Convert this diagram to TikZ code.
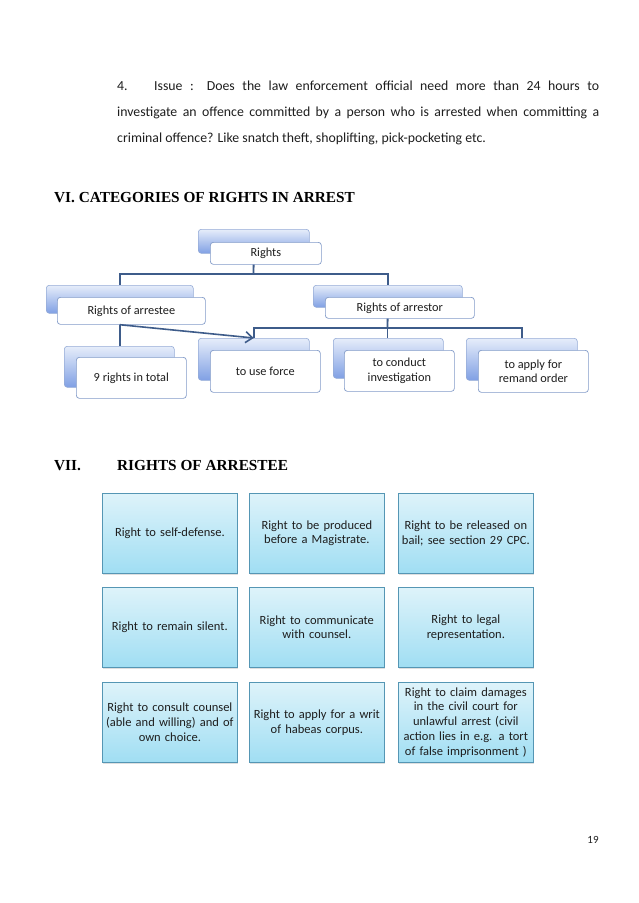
\documentclass[tikz,border=0pt]{standalone}
\usepackage{fontspec}
\setmainfont{Carlito}
\newfontfamily\tnr{Liberation Serif}
\usetikzlibrary{arrows.meta,shadows,backgrounds}
\definecolor{linec}{RGB}{62,92,138}
\definecolor{frontdraw}{RGB}{130,155,200}
\definecolor{backtop}{RGB}{230,237,250}
\definecolor{backbot}{RGB}{128,160,228}
\definecolor{backdraw}{RGB}{150,172,215}
\definecolor{gridtop}{RGB}{222,243,250}
\definecolor{gridbot}{RGB}{160,222,243}
\definecolor{griddraw}{RGB}{85,150,180}
\definecolor{txt}{RGB}{30,30,30}
\tikzset{
  backbox/.style={draw=backdraw, line width=0.6pt, rounded corners=3pt,
    top color=backtop, bottom color=backbot, inner sep=0pt, anchor=north west},
  frontbox/.style={draw=frontdraw, line width=0.7pt, rounded corners=3pt, fill=white,
    inner sep=1pt, anchor=north west, align=center, text=txt,
    font=\fontsize{12.3}{14.5}\selectfont},
  gridbox/.style={draw=griddraw, line width=0.7pt, top color=gridtop, bottom color=gridbot,
    minimum width=135pt, minimum height=80pt, text width=131pt, inner xsep=2pt,
    align=center, anchor=north west, text=txt,
    font=\fontsize{12.5}{14.7}\selectfont,
    drop shadow={shadow xshift=1pt, shadow yshift=-1.5pt, opacity=0.25}},
  conn/.style={draw=linec, line width=1.8pt},
  para/.style={anchor=base west, inner sep=0pt, text=txt, font=\fontsize{13.8}{15}\selectfont},
  heading/.style={anchor=base west, inner sep=0pt, text=black, font=\tnr\bfseries\fontsize{15.3}{17}\selectfont}
}
\begin{document}
\begin{tikzpicture}[x=1pt,y=-1pt]
\useasboundingbox (0,0) rectangle (638,903);
% paragraph
\node[para] (p1) at (117,90) {\makebox[482pt][s]{\makebox[37pt][l]{4.}Issue : Does the law enforcement official need more than 24 hours to}};
\node[para] (p2) at (117,116) {\makebox[482pt][s]{investigate an offence committed by a person who is arrested when committing a}};
\node[para] (p3) at (117,142) {criminal offence? Like snatch theft, shoplifting, pick-pocketing etc.};
% headings
\node[heading] (h6) at (54,202) {VI. CATEGORIES OF RIGHTS IN ARREST};
\node[heading] (h7a) at (54,470) {VII.};
\node[heading] (h7b) at (117,470) {RIGHTS OF ARRESTEE};
% hierarchy
\node[backbox, minimum width=111pt, minimum height=24pt] (rtb) at (198,229) {};
\node[frontbox, minimum width=111pt, minimum height=22pt] (rt) at (210,242) {Rights};
\node[backbox, minimum width=147pt, minimum height=28pt] (aeb) at (46,285) {};
\node[frontbox, minimum width=148pt, minimum height=27pt] (ae) at (57,297) {Rights of arrestee};
\node[backbox, minimum width=149pt, minimum height=22pt] (arb) at (313,285) {};
\node[frontbox, minimum width=149pt, minimum height=21pt] (ar) at (325,297) {Rights of arrestor};
\node[backbox, minimum width=110pt, minimum height=41pt] (nrb) at (64,346) {};
\node[frontbox, minimum width=110pt, minimum height=41pt] (nr) at (76,357) {9 rights in total};
\node[backbox, minimum width=111pt, minimum height=42pt] (ufb) at (198,338) {};
\node[frontbox, minimum width=110pt, minimum height=42pt] (uf) at (210,350) {to use force};
\node[backbox, minimum width=110pt, minimum height=40pt] (cib) at (333,338) {};
\node[frontbox, minimum width=110pt, minimum height=41pt] (ci) at (344,350) {to conduct\\investigation};
\node[backbox, minimum width=111pt, minimum height=42pt] (apb) at (466,338) {};
\node[frontbox, minimum width=110pt, minimum height=42pt] (ap) at (478,350) {to apply for\\remand order};
\coordinate (bus1) at (253.5,274);
\coordinate (bus2) at (387.5,328);
\begin{scope}[on background layer]
\fill[white] (0,0) rectangle (638,903);
\draw[conn] (rtb.south) -- (bus1);
\draw[conn] (aeb.north) |- (bus1) -| (arb.north);
\draw[conn] (aeb.south) -- (aeb.south |- nrb.north);
\draw[conn] (arb.south) -- (bus2);
\draw[conn] (ufb.north) |- (bus2) -| (apb.north);
\draw[conn] (bus2) -- (bus2 |- cib.north);
\end{scope}
\draw[conn, line width=1.6pt, -{Straight Barb[length=7pt,width=11pt,line width=1.6pt]}] (aeb.south |- ae.south) -- (ufb.north);
% grid of rights
\node[gridbox] (g11) at (102,493) {Right to self-defense.};
\node[gridbox] (g12) at (249,493) {Right to be produced\\before a Magistrate.};
\node[gridbox] (g13) at (398,493) {Right to be released on\\bail; see section 29 CPC.};
\node[gridbox] (g21) at (102,587) {Right to remain silent.};
\node[gridbox] (g22) at (249,587) {Right to communicate\\with counsel.};
\node[gridbox] (g23) at (398,587) {Right to legal\\representation.};
\node[gridbox] (g31) at (102,682) {Right to consult counsel\\(able and willing) and of\\own choice.};
\node[gridbox] (g32) at (249,682) {Right to apply for a writ\\of habeas corpus.};
\node[gridbox] (g33) at (398,682) {Right to claim damages\\in the civil court for\\unlawful arrest (civil\\action lies in e.g. a tort\\of false imprisonment )};
% page number
\node[anchor=base, inner sep=0pt, text=txt, font=\fontsize{11}{13}\selectfont] (pg) at (593,843) {19};
\end{tikzpicture}
\end{document}
